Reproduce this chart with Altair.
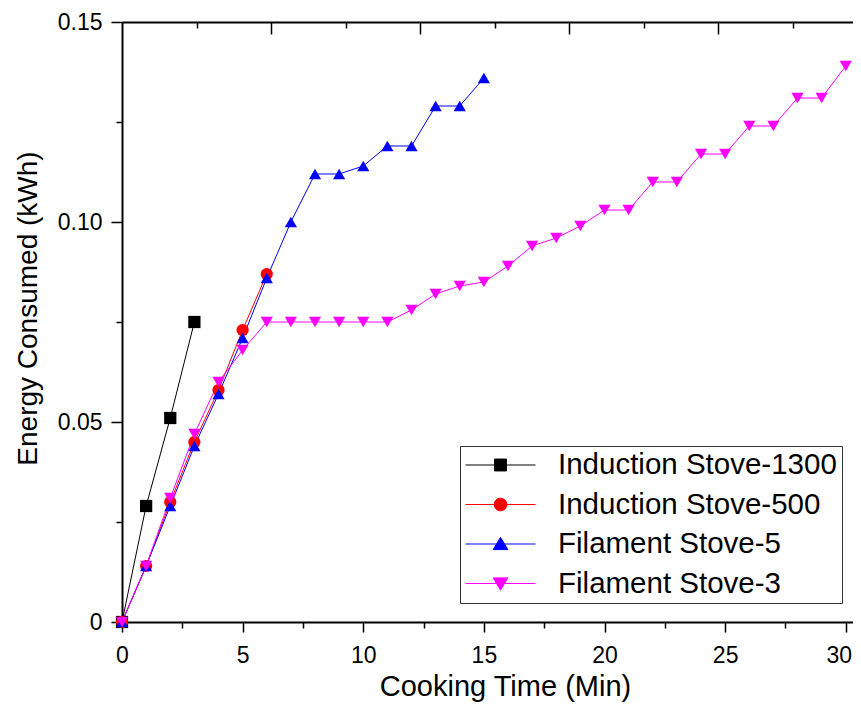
import altair as alt
import pandas as pd

# ---------------- data ----------------
SERIES = ["Induction Stove-1300", "Induction Stove-500", "Filament Stove-5", "Filament Stove-3"]
COLORS = ["#000000", "#ff0000", "#0000ff", "#ff00ff"]
SHAPES = ["square", "circle", "triangle-up", "triangle-down"]
SIZES = [150, 150, 190, 190]
# legend symbols: a horizontal line with the marker in the middle
LEGEND_PATHS = [
    "M-1,0H1M-0.17,-0.17H0.17V0.17H-0.17Z",
    "M-1,0H1M0.18,0A0.18,0.18,0,1,1,-0.18,0A0.18,0.18,0,1,1,0.18,0Z",
    "M-1,0H1M0,-0.19L0.21,0.16L-0.21,0.16Z",
    "M-1,0H1M0,0.19L0.21,-0.16L-0.21,-0.16Z",
]

T_1300 = [0, 1, 2, 3]
E_1300 = [0, 0.029, 0.051, 0.075]

T_500 = [0, 1, 2, 3, 4, 5, 6]
E_500 = [0, 0.014, 0.030, 0.045, 0.058, 0.073, 0.087]

T_F5 = [0, 1, 2, 3, 4, 5, 6, 7, 8, 9, 10, 11, 12, 13, 14, 15]
E_F5 = [0, 0.014, 0.029, 0.044, 0.057, 0.071, 0.086, 0.100, 0.112, 0.112,
        0.114, 0.119, 0.119, 0.129, 0.129, 0.136]

T_F3 = [0, 1, 2, 3, 4, 5, 6, 7, 8, 9, 10, 11, 12, 13, 14, 15, 16, 17, 18, 19,
        20, 21, 22, 23, 24, 25, 26, 27, 28, 29, 30]
E_F3 = [0, 0.014, 0.031, 0.047, 0.060, 0.068, 0.075, 0.075, 0.075, 0.075,
        0.075, 0.075, 0.078, 0.082, 0.084, 0.085, 0.089, 0.094, 0.096, 0.099,
        0.103, 0.103, 0.110, 0.110, 0.117, 0.117, 0.124, 0.124, 0.131, 0.131,
        0.139]

X_DOMAIN = [0, 30.3]
Y_DOMAIN = [0, 0.15]
X_TICKS = [0, 2.5, 5, 7.5, 10, 12.5, 15, 17.5, 20, 22.5, 25, 27.5, 30]
Y_TICKS = [0, 0.025, 0.05, 0.075, 0.1, 0.125, 0.15]
TOP_DOMAIN = [0, 9.81]
TOP_TICKS = [1, 2, 3, 4, 5, 6, 7, 8, 9]

rows = []
for name, ts, es in zip(SERIES, [T_1300, T_500, T_F5, T_F3], [E_1300, E_500, E_F5, E_F3]):
    for t, e in zip(ts, es):
        rows.append({"series": name, "t": t, "e": e})
df = pd.DataFrame(rows)

FONT = "Liberation Sans"

x_axis = alt.Axis(
    values=X_TICKS, title="Cooking Time (Min)", grid=False,
    labelExpr="datum.value % 5 == 0 ? datum.label : ''",
    tickSize={"expr": "datum.value % 5 == 0 ? 10 : 6"},
    labelOffset={"expr": "datum.value >= 30 ? -7 : 0"},
    tickWidth=1.5, tickColor="black", domainColor="black", domainWidth=2,
    labelFont=FONT, labelFontSize=23, labelColor="black", labelPadding=12,
    labelFlush=False, labelOverlap=False,
    titleFont=FONT, titleFontSize=29, titleFontWeight="normal", titleColor="black",
    titleX=383, titleY=73, titleBaseline="alphabetic", titleAlign="center",
)
y_axis = alt.Axis(
    values=Y_TICKS, title="Energy Consumed (kWh)", grid=False,
    labelExpr="abs(round(datum.value*20) - datum.value*20) < 1e-6 ? (datum.value == 0 ? '0' : format(datum.value, '.2f')) : ''",
    tickSize={"expr": "abs(round(datum.value*20) - datum.value*20) < 1e-6 ? 11 : 6"},
    tickWidth=1.5, tickColor="black", domainColor="black", domainWidth=2,
    labelFont=FONT, labelFontSize=23, labelColor="black", labelPadding=9,
    labelFlush=False, labelOverlap=False,
    titleFont=FONT, titleFontSize=28, titleFontWeight="normal", titleColor="black",
    titleX=-86, titleY=286, titleBaseline="alphabetic", titleAlign="center", titleAngle=270,
)

xs = alt.Scale(domain=X_DOMAIN, nice=False, zero=False)
ys = alt.Scale(domain=Y_DOMAIN, nice=False, zero=False)

base = alt.Chart(df)
X_ENC = alt.X("t:Q", scale=xs, axis=x_axis)
Y_ENC = alt.Y("e:Q", scale=ys, axis=y_axis)

lines = base.mark_line(strokeWidth=1, opacity=1).encode(
    x=X_ENC, y=Y_ENC,
    stroke=alt.Stroke("series:N", scale=alt.Scale(domain=SERIES, range=COLORS), legend=None),
)

points = base.mark_point(filled=True, opacity=1, strokeWidth=0).encode(
    x=X_ENC, y=Y_ENC,
    shape=alt.Shape("series:N", scale=alt.Scale(domain=SERIES, range=SHAPES), legend=None),
    fill=alt.Fill("series:N", scale=alt.Scale(domain=SERIES, range=COLORS), legend=None),
    size=alt.Size("series:N", scale=alt.Scale(domain=SERIES, range=SIZES), legend=None),
)

leg = alt.Legend(
    orient="none", legendX=338, legendY=424, title=None,
    symbolSize=4900, symbolStrokeWidth=1, clipHeight=28, rowPadding=9.5, padding=5,
    labelFont=FONT, labelFontSize=29.5, labelColor="black", labelOffset=22,
    labelLimit=500, labelExpr="datum.label + ' '",
    strokeColor="#333333", fillColor="white",
)

legend_layer = base.transform_filter("false").mark_point(filled=True, opacity=1, strokeWidth=1).encode(
    x=X_ENC, y=Y_ENC,
    shape=alt.Shape("series:N", scale=alt.Scale(domain=SERIES, range=LEGEND_PATHS), legend=leg),
    fill=alt.Fill("series:N", scale=alt.Scale(domain=SERIES, range=COLORS), legend=leg),
    stroke=alt.Stroke("series:N", scale=alt.Scale(domain=SERIES, range=COLORS), legend=leg),
)

inner = alt.layer(lines, points, legend_layer).resolve_scale(
    shape="independent", fill="independent", stroke="independent", size="independent"
)

top_layer = base.transform_filter("false").mark_point(opacity=0).encode(
    x=alt.X("tt:Q", scale=alt.Scale(domain=TOP_DOMAIN, nice=False, zero=False),
            axis=alt.Axis(orient="top", values=TOP_TICKS, labels=False, title=None, grid=False,
                          tickSize={"expr": "datum.value % 2 == 0 ? -12 : -6"},
                          tickWidth=1.5, tickColor="black", domainColor="black", domainWidth=2)),
)

chart = alt.layer(inner, top_layer).resolve_scale(x="independent").properties(
    width=731, height=600,
    title=alt.TitleParams("(a)", font="Liberation Serif", fontSize=22, fontWeight="normal",
                          color="black", anchor="middle", dx=-46, offset=10),
    autosize=alt.AutoSizeParams(type="none"),
    padding={"left": 114, "top": 14, "right": 0, "bottom": 80},
).configure_view(stroke=None).configure(background="white")

chart.save("out.html", embed_options={"renderer": "svg", "actions": False})
